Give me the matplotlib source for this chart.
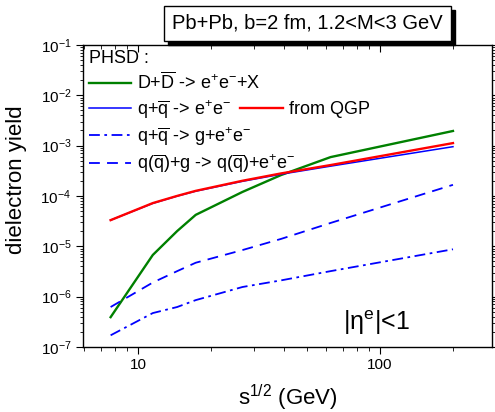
import matplotlib
matplotlib.use("Agg")
import matplotlib.pyplot as plt
from matplotlib.ticker import LogLocator, FixedLocator, FixedFormatter, NullFormatter

plt.rcParams['font.family'] = ['Liberation Sans', 'DejaVu Sans']
plt.rcParams['mathtext.fontset'] = 'custom'
plt.rcParams['mathtext.rm'] = 'Liberation Sans'
plt.rcParams['mathtext.it'] = 'Liberation Sans:italic'
plt.rcParams['mathtext.default'] = 'regular'

# data
sqrt_s = [7.7, 11.5, 14.5, 17.3, 27, 39, 62.4, 200]
charm = [3.9e-7, 6.7e-6, 2.0e-5, 4.2e-5, 1.2e-4, 2.6e-4, 5.9e-4, 1.95e-3]
qgp = [3.3e-5, 7.2e-5, 1.0e-4, 1.26e-4, 2.0e-4, 2.8e-4, 4.1e-4, 1.12e-3]
qqbar = [3.3e-5, 7.1e-5, 9.9e-5, 1.24e-4, 1.95e-4, 2.7e-4, 3.9e-4, 9.5e-4]
qq_g = [1.7e-7, 4.7e-7, 6.2e-7, 8.5e-7, 1.55e-6, 2.1e-6, 3.2e-6, 8.7e-6]
qg = [6.2e-7, 1.9e-6, 3.2e-6, 4.7e-6, 8.4e-6, 1.4e-5, 2.9e-5, 1.66e-4]

labels = ["D+$\\overline{\\rm D}$ -> e$^{+}$e$^{-}$+X",
          "q+$\\overline{\\rm q}$ -> e$^{+}$e$^{-}$",
          "q+$\\overline{\\rm q}$ -> g+e$^{+}$e$^{-}$",
          "q($\\overline{\\rm q}$)+g -> q($\\overline{\\rm q}$)+e$^{+}$e$^{-}$",
          "from QGP"]

fig = plt.figure(figsize=(4.95, 4.12), dpi=100)
ax = fig.add_axes([0.168, 0.158, 0.826, 0.733])

green = '#008000'
blue = '#0000ff'
red = '#ff0000'

l_charm, = ax.plot(sqrt_s, charm, color=green, lw=1.7)
l_qq, = ax.plot(sqrt_s, qqbar, color=blue, lw=1.1)
l_qgp, = ax.plot(sqrt_s, qgp, color=red, lw=1.7)
l_qqg, = ax.plot(sqrt_s, qq_g, color=blue, lw=1.3, dashes=(6, 2.5, 1.5, 2.5))
l_qg, = ax.plot(sqrt_s, qg, color=blue, lw=1.3, dashes=(6, 4))

ax.set_xscale('log')
ax.set_yscale('log')
ax.set_xlim(5.93, 290)
ax.set_ylim(1e-7, 1e-1)

ax.xaxis.set_major_locator(FixedLocator([10, 100]))
ax.xaxis.set_major_formatter(FixedFormatter(['10', '100']))
ax.xaxis.set_minor_locator(LogLocator(base=10, subs=range(2, 10), numticks=20))
ax.xaxis.set_minor_formatter(NullFormatter())
ax.yaxis.set_minor_locator(LogLocator(base=10, subs=range(2, 10), numticks=20))
ax.yaxis.set_minor_formatter(NullFormatter())

ax.tick_params(axis='both', which='both', labelsize=11, colors='black')
ax.tick_params(axis='x', which='major', direction='out', length=5, top=True, pad=3)
ax.tick_params(axis='x', which='minor', direction='out', length=3, top=True)
ax.tick_params(axis='y', which='major', direction='out', length=5, right=True)
ax.tick_params(axis='y', which='minor', direction='out', length=2.5, right=True)
for t in ax.xaxis.get_major_ticks() + ax.xaxis.get_minor_ticks():
    t.tick2line.set_marker(3)
for t in ax.yaxis.get_major_ticks() + ax.yaxis.get_minor_ticks():
    t.tick2line.set_marker(1)
for s in ax.spines.values():
    s.set_linewidth(1.0)

ax.set_ylabel('dielectron yield', fontsize=16)
ax.yaxis.set_label_coords(-0.138, 0.553)
ax.set_xlabel('s$^{1/2}$ (GeV)', fontsize=16, labelpad=8)

leg = ax.legend([l_charm, l_qq, l_qqg, l_qg], labels[:4], loc='upper left',
                title='PHSD :', title_fontsize=13, fontsize=13, frameon=False,
                handlelength=2.35, handletextpad=0.35, labelspacing=0.25,
                borderaxespad=0.1, borderpad=0.2, alignment='left')
ax.add_artist(leg)
leg2 = ax.legend([l_qgp], [labels[4]], loc='center left',
                 bbox_to_anchor=(0.384, 0.785), fontsize=13, frameon=False,
                 handlelength=2.35, handletextpad=0.35, borderaxespad=0, borderpad=0)

ax.text(0.716, 0.033, '|$\\eta^{e}$|<1', transform=ax.transAxes, fontsize=18,
        ha='center', va='bottom')

title = fig.text(0.621, 0.943, 'Pb+Pb, b=2 fm, 1.2<M<3 GeV', fontsize=14.5,
                 ha='center', va='center',
                 bbox=dict(boxstyle='square,pad=0.42', fc='white', ec='black', lw=1.0))
fig.canvas.draw()
bb = title.get_bbox_patch().get_window_extent()
inv = fig.transFigure.inverted()
(x0, y0), (x1, y1) = inv.transform([[bb.x0, bb.y0], [bb.x1, bb.y1]])
dx, dy = 4 / 495, 4 / 412
shadow = matplotlib.patches.Rectangle((x0 + dx, y0 - dy), x1 - x0, y1 - y0,
                                      transform=fig.transFigure, fc='black',
                                      ec='black', zorder=0)
fig.patches.append(shadow)

fig.savefig('out.png', dpi=100)
